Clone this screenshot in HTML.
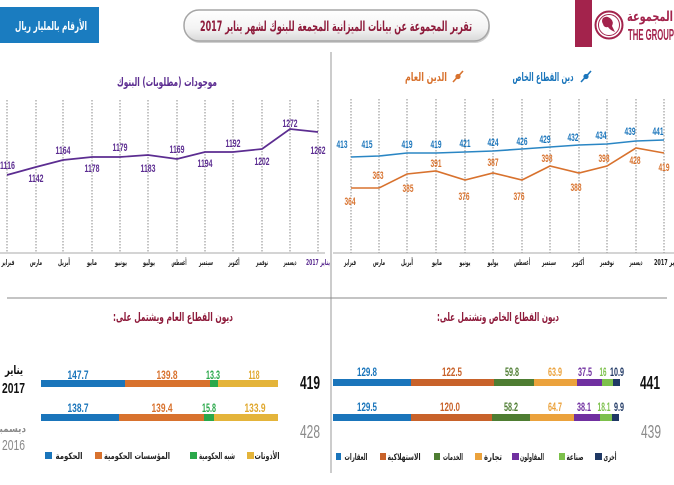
<!DOCTYPE html>
<html><head><meta charset="utf-8"><style>
html,body{margin:0;padding:0;background:#fff;width:674px;height:485px;overflow:hidden}
svg{display:block}
.ar{font-family:"DejaVu Sans Condensed","DejaVu Sans","Noto Sans CJK SC",sans-serif;font-weight:bold}
.num{font-family:"Liberation Sans Narrow","Liberation Sans",sans-serif;font-weight:bold}
.nl{font-family:"Liberation Sans Narrow","Liberation Sans",sans-serif}
</style></head><body>
<svg width="674" height="485" viewBox="0 0 674 485" xmlns="http://www.w3.org/2000/svg">
<defs>
<linearGradient id="pg" x1="0" y1="0" x2="0" y2="1"><stop offset="0" stop-color="#ffffff"/><stop offset="0.6" stop-color="#f3f3f3"/><stop offset="1" stop-color="#d9d9d9"/></linearGradient>
</defs>
<rect width="674" height="485" fill="#fff"/>

<!-- header -->
<rect x="0" y="7" width="99" height="36" fill="#1a7cc0"/>
<text x="51" y="30" class="ar" font-size="12" fill="#fff" text-anchor="middle" direction="rtl" textLength="72" lengthAdjust="spacingAndGlyphs">الأرقام بالمليار ريال</text>

<rect x="185" y="12" width="305" height="31" rx="15" fill="#cfcfcf"/>
<rect x="184" y="10" width="305" height="31" rx="15" fill="url(#pg)" stroke="#a5a5a5" stroke-width="1.5"/>
<text x="336" y="31" class="ar" font-size="14" fill="#8e1b3b" text-anchor="middle" direction="rtl" textLength="272" lengthAdjust="spacingAndGlyphs">تقرير المجموعة عن بيانات الميزانية المجمعة للبنوك لشهر يناير 2017</text>

<rect x="575" y="0" width="17" height="47" fill="#a3234c"/>
<circle cx="609" cy="25" r="13.5" fill="#fff" stroke="#a3234c" stroke-width="2"/>
<circle cx="609" cy="25" r="10.5" fill="none" stroke="#a3234c" stroke-width="1"/>
<path d="M603 18 q4 -3 8 1 q3 3 1 7 l3 6 q-5 -2 -7 -5 q-4 1 -5 -3 q-2 -3 0 -6z" fill="#a3234c"/>
<text x="650" y="21" class="ar" font-size="14" fill="#a3234c" text-anchor="middle" direction="rtl" textLength="46" lengthAdjust="spacingAndGlyphs">المجموعة</text>
<text x="651" y="40" class="num" font-size="16" fill="#a3234c" text-anchor="middle" textLength="46" lengthAdjust="spacingAndGlyphs">THE GROUP</text>

<!-- dividers -->
<line x1="331" y1="52" x2="331" y2="473" stroke="#9a9a9a" stroke-width="1"/>
<line x1="7" y1="298" x2="667" y2="298" stroke="#8a8a8a" stroke-width="1"/>

<!-- LEFT CHART -->
<text x="167" y="86" class="ar" font-size="12" fill="#5c2d91" text-anchor="middle" direction="rtl" textLength="100" lengthAdjust="spacingAndGlyphs">موجودات (مطلوبات) البنوك</text>
<g stroke="#8a8a8a" stroke-width="1" stroke-dasharray="1.5 1.5">
<line x1="7" y1="100" x2="7" y2="253"/><line x1="36" y1="100" x2="36" y2="253"/><line x1="63" y1="100" x2="63" y2="253"/><line x1="92" y1="100" x2="92" y2="253"/><line x1="120" y1="100" x2="120" y2="253"/><line x1="148" y1="100" x2="148" y2="253"/><line x1="177" y1="100" x2="177" y2="253"/><line x1="205" y1="100" x2="205" y2="253"/><line x1="233" y1="100" x2="233" y2="253"/><line x1="262" y1="100" x2="262" y2="253"/><line x1="290" y1="100" x2="290" y2="253"/><line x1="318" y1="100" x2="318" y2="253"/>
</g>
<line x1="0" y1="253" x2="325" y2="253" stroke="#aaa" stroke-width="1"/>
<polyline points="7,175 36,167 63,160 92,157 120,157 148,155 177,159 205,152 233,152 262,149 290,129 318,132" fill="none" stroke="#5c2d91" stroke-width="1.7"/>
<g class="num" font-size="11" fill="#5c2d91" text-anchor="middle">
<text x="0" y="169" text-anchor="start" textLength="15" lengthAdjust="spacingAndGlyphs">1116</text>
<text x="36" y="182" textLength="15" lengthAdjust="spacingAndGlyphs">1142</text>
<text x="63" y="154" textLength="15" lengthAdjust="spacingAndGlyphs">1164</text>
<text x="92" y="172" textLength="15" lengthAdjust="spacingAndGlyphs">1178</text>
<text x="120" y="151" textLength="15" lengthAdjust="spacingAndGlyphs">1179</text>
<text x="148" y="172" textLength="15" lengthAdjust="spacingAndGlyphs">1183</text>
<text x="177" y="153" textLength="15" lengthAdjust="spacingAndGlyphs">1169</text>
<text x="205" y="167" textLength="15" lengthAdjust="spacingAndGlyphs">1194</text>
<text x="233" y="147" textLength="15" lengthAdjust="spacingAndGlyphs">1192</text>
<text x="262" y="165" textLength="15" lengthAdjust="spacingAndGlyphs">1202</text>
<text x="290" y="127" textLength="15" lengthAdjust="spacingAndGlyphs">1272</text>
<text x="318" y="154" textLength="15" lengthAdjust="spacingAndGlyphs">1262</text>
</g>
<g class="ar" font-size="8" fill="#222" text-anchor="middle" direction="rtl">
<text x="8" y="265" textLength="13" lengthAdjust="spacingAndGlyphs">فبراير</text>
<text x="36" y="265" textLength="12" lengthAdjust="spacingAndGlyphs">مارس</text>
<text x="64" y="265" textLength="12" lengthAdjust="spacingAndGlyphs">أبريل</text>
<text x="92" y="265" textLength="10" lengthAdjust="spacingAndGlyphs">مايو</text>
<text x="121" y="265" textLength="12" lengthAdjust="spacingAndGlyphs">يونيو</text>
<text x="149" y="265" textLength="12" lengthAdjust="spacingAndGlyphs">يوليو</text>
<text x="179" y="265" textLength="15" lengthAdjust="spacingAndGlyphs">أغسطس</text>
<text x="206" y="265" textLength="14" lengthAdjust="spacingAndGlyphs">سبتمبر</text>
<text x="234" y="265" textLength="11" lengthAdjust="spacingAndGlyphs">أكتوبر</text>
<text x="262" y="265" textLength="12" lengthAdjust="spacingAndGlyphs">نوفمبر</text>
<text x="290" y="265" textLength="13" lengthAdjust="spacingAndGlyphs">ديسمبر</text>
<text x="318" y="265" textLength="24" lengthAdjust="spacingAndGlyphs" fill="#5c2d91">يناير 2017</text>
</g>

<!-- RIGHT CHART -->
<g>
<line x1="581" y1="82" x2="591" y2="71" stroke="#1a75bb" stroke-width="1.6"/><circle cx="586" cy="76.5" r="2.6" fill="#1a75bb"/>
<text x="543" y="81" class="ar" font-size="12" fill="#1a75bb" text-anchor="middle" direction="rtl" textLength="61" lengthAdjust="spacingAndGlyphs">دين القطاع الخاص</text>
<line x1="453" y1="82" x2="463" y2="71" stroke="#d8722e" stroke-width="1.6"/><circle cx="458" cy="76.5" r="2.6" fill="#d8722e"/>
<text x="426" y="81" class="ar" font-size="12" fill="#d8722e" text-anchor="middle" direction="rtl" textLength="42" lengthAdjust="spacingAndGlyphs">الدين العام</text>
</g>
<g stroke="#8a8a8a" stroke-width="1" stroke-dasharray="1.5 1.5">
<line x1="351" y1="99" x2="351" y2="253"/><line x1="379" y1="99" x2="379" y2="253"/><line x1="407" y1="99" x2="407" y2="253"/><line x1="436" y1="99" x2="436" y2="253"/><line x1="465" y1="99" x2="465" y2="253"/><line x1="493" y1="99" x2="493" y2="253"/><line x1="522" y1="99" x2="522" y2="253"/><line x1="550" y1="99" x2="550" y2="253"/><line x1="579" y1="99" x2="579" y2="253"/><line x1="607" y1="99" x2="607" y2="253"/><line x1="636" y1="99" x2="636" y2="253"/><line x1="664" y1="99" x2="664" y2="253"/>
</g>
<line x1="333" y1="253" x2="674" y2="253" stroke="#aaa" stroke-width="1"/>
<polyline points="351,157 379,156 407,153 436,153 465,152 493,151 522,149 550,147 579,145 607,144 636,141 664,140" fill="none" stroke="#2a86c4" stroke-width="1.6"/>
<polyline points="351,188 379,188 407,174 436,171 465,180 493,173 522,180 550,166 579,173 607,166 636,148 664,153" fill="none" stroke="#d8722e" stroke-width="1.6"/>
<g class="num" font-size="11" fill="#1a75bb" text-anchor="middle">
<text x="342" y="148" textLength="11" lengthAdjust="spacingAndGlyphs">413</text>
<text x="367" y="148" textLength="11" lengthAdjust="spacingAndGlyphs">415</text>
<text x="407" y="148" textLength="11" lengthAdjust="spacingAndGlyphs">419</text>
<text x="436" y="148" textLength="11" lengthAdjust="spacingAndGlyphs">419</text>
<text x="465" y="147" textLength="11" lengthAdjust="spacingAndGlyphs">421</text>
<text x="493" y="146" textLength="11" lengthAdjust="spacingAndGlyphs">424</text>
<text x="522" y="145" textLength="11" lengthAdjust="spacingAndGlyphs">426</text>
<text x="545" y="143" textLength="11" lengthAdjust="spacingAndGlyphs">429</text>
<text x="573" y="141" textLength="11" lengthAdjust="spacingAndGlyphs">432</text>
<text x="601" y="139" textLength="11" lengthAdjust="spacingAndGlyphs">434</text>
<text x="630" y="135" textLength="11" lengthAdjust="spacingAndGlyphs">439</text>
<text x="658" y="135" textLength="11" lengthAdjust="spacingAndGlyphs">441</text>
</g>
<g class="num" font-size="11" fill="#d8722e" text-anchor="middle">
<text x="350" y="205" textLength="11" lengthAdjust="spacingAndGlyphs">364</text>
<text x="378" y="179" textLength="11" lengthAdjust="spacingAndGlyphs">363</text>
<text x="408" y="192" textLength="11" lengthAdjust="spacingAndGlyphs">385</text>
<text x="436" y="167" textLength="11" lengthAdjust="spacingAndGlyphs">391</text>
<text x="464" y="200" textLength="11" lengthAdjust="spacingAndGlyphs">376</text>
<text x="493" y="166" textLength="11" lengthAdjust="spacingAndGlyphs">387</text>
<text x="519" y="200" textLength="11" lengthAdjust="spacingAndGlyphs">376</text>
<text x="547" y="162" textLength="11" lengthAdjust="spacingAndGlyphs">398</text>
<text x="576" y="191" textLength="11" lengthAdjust="spacingAndGlyphs">388</text>
<text x="604" y="162" textLength="11" lengthAdjust="spacingAndGlyphs">398</text>
<text x="635" y="164" textLength="11" lengthAdjust="spacingAndGlyphs">428</text>
<text x="664" y="171" textLength="11" lengthAdjust="spacingAndGlyphs">419</text>
</g>
<g class="ar" font-size="8" fill="#222" text-anchor="middle" direction="rtl">
<text x="350" y="265" textLength="12" lengthAdjust="spacingAndGlyphs">فبراير</text>
<text x="379" y="265" textLength="12" lengthAdjust="spacingAndGlyphs">مارس</text>
<text x="407" y="265" textLength="12" lengthAdjust="spacingAndGlyphs">أبريل</text>
<text x="437" y="265" textLength="10" lengthAdjust="spacingAndGlyphs">مايو</text>
<text x="465" y="265" textLength="11" lengthAdjust="spacingAndGlyphs">يونيو</text>
<text x="493" y="265" textLength="11" lengthAdjust="spacingAndGlyphs">يوليو</text>
<text x="522" y="265" textLength="16" lengthAdjust="spacingAndGlyphs">أغسطس</text>
<text x="549" y="265" textLength="14" lengthAdjust="spacingAndGlyphs">سبتمبر</text>
<text x="578" y="265" textLength="12" lengthAdjust="spacingAndGlyphs">أكتوبر</text>
<text x="607" y="265" textLength="14" lengthAdjust="spacingAndGlyphs">نوفمبر</text>
<text x="636" y="265" textLength="13" lengthAdjust="spacingAndGlyphs">ديسمبر</text>
<text x="667" y="265" textLength="26" lengthAdjust="spacingAndGlyphs">يناير 2017</text>
</g>

<!-- BOTTOM LEFT -->
<text x="173" y="321" class="ar" font-size="12" fill="#8e1b3b" text-anchor="middle" direction="rtl" textLength="120" lengthAdjust="spacingAndGlyphs">ديون القطاع العام ويشتمل على:</text>
<text x="14" y="374" class="ar" font-size="12" fill="#111" text-anchor="middle" direction="rtl" textLength="18" lengthAdjust="spacingAndGlyphs">يناير</text>
<text x="2" y="393" class="num" font-size="15" fill="#111" textLength="23" lengthAdjust="spacingAndGlyphs">2017</text>
<text x="10" y="432" class="ar" font-size="10" fill="#8a8a8a" text-anchor="middle" direction="rtl" textLength="32" lengthAdjust="spacingAndGlyphs">ديسمبر</text>
<text x="2" y="450" class="nl" font-size="15" fill="#8a8a8a" textLength="23" lengthAdjust="spacingAndGlyphs">2016</text>

<rect x="41" y="380" width="84" height="7" fill="#1a75bb"/>
<rect x="125" y="380" width="85" height="7" fill="#d8722e"/>
<rect x="210" y="380" width="8" height="7" fill="#2aa84a"/>
<rect x="218" y="380" width="60" height="7" fill="#e4b43a"/>
<rect x="41" y="414" width="78" height="7" fill="#1a75bb"/>
<rect x="119" y="414" width="85" height="7" fill="#d8722e"/>
<rect x="204" y="414" width="10" height="7" fill="#2aa84a"/>
<rect x="214" y="414" width="64" height="7" fill="#e4b43a"/>
<g class="num" font-size="11.5" text-anchor="middle">
<text x="78" y="379" fill="#1a75bb" textLength="21" lengthAdjust="spacingAndGlyphs">147.7</text>
<text x="167" y="379" fill="#d8722e" textLength="21" lengthAdjust="spacingAndGlyphs">139.8</text>
<text x="213" y="379" fill="#2aa84a" textLength="14" lengthAdjust="spacingAndGlyphs">13.3</text>
<text x="254" y="379" fill="#e0a82e" textLength="11" lengthAdjust="spacingAndGlyphs">118</text>
<text x="78" y="412" fill="#1a75bb" textLength="21" lengthAdjust="spacingAndGlyphs">138.7</text>
<text x="162" y="412" fill="#d8722e" textLength="21" lengthAdjust="spacingAndGlyphs">139.4</text>
<text x="209" y="412" fill="#2aa84a" textLength="14" lengthAdjust="spacingAndGlyphs">15.8</text>
<text x="255" y="412" fill="#e0a82e" textLength="21" lengthAdjust="spacingAndGlyphs">133.9</text>
</g>
<text x="300" y="389" class="num" font-size="18" fill="#111" textLength="20" lengthAdjust="spacingAndGlyphs">419</text>
<text x="300" y="438" class="nl" font-size="18" fill="#8a8a8a" textLength="20" lengthAdjust="spacingAndGlyphs">428</text>
<rect x="45" y="452" width="7" height="7" fill="#1a75bb"/>
<text x="69" y="459" class="ar" font-size="9" fill="#222" text-anchor="middle" direction="rtl" textLength="27" lengthAdjust="spacingAndGlyphs">الحكومة</text>
<rect x="95" y="452" width="7" height="7" fill="#d8722e"/>
<text x="137" y="459" class="ar" font-size="9" fill="#222" text-anchor="middle" direction="rtl" textLength="66" lengthAdjust="spacingAndGlyphs">المؤسسات الحكومية</text>
<rect x="190" y="452" width="7" height="7" fill="#2aa84a"/>
<text x="217" y="459" class="ar" font-size="9" fill="#222" text-anchor="middle" direction="rtl" textLength="36" lengthAdjust="spacingAndGlyphs">شبه الحكومية</text>
<rect x="247" y="452" width="7" height="7" fill="#e4b43a"/>
<text x="267" y="459" class="ar" font-size="9" fill="#222" text-anchor="middle" direction="rtl" textLength="25" lengthAdjust="spacingAndGlyphs">الأذونات</text>

<!-- BOTTOM RIGHT -->
<text x="498" y="321" class="ar" font-size="12" fill="#8e1b3b" text-anchor="middle" direction="rtl" textLength="122" lengthAdjust="spacingAndGlyphs">ديون القطاع الخاص وتشتمل على:</text>
<rect x="333" y="379" width="78" height="7" fill="#1a75bb"/>
<rect x="411" y="379" width="83" height="7" fill="#c8622a"/>
<rect x="494" y="379" width="40" height="7" fill="#4e7d32"/>
<rect x="534" y="379" width="43" height="7" fill="#eba23c"/>
<rect x="577" y="379" width="25" height="7" fill="#7030a0"/>
<rect x="602" y="379" width="11" height="7" fill="#7cc04b"/>
<rect x="613" y="379" width="7" height="7" fill="#1f3864"/>
<rect x="333" y="414" width="78" height="7" fill="#1a75bb"/>
<rect x="411" y="414" width="81" height="7" fill="#c8622a"/>
<rect x="492" y="414" width="38" height="7" fill="#4e7d32"/>
<rect x="530" y="414" width="44" height="7" fill="#eba23c"/>
<rect x="574" y="414" width="26" height="7" fill="#7030a0"/>
<rect x="600" y="414" width="12" height="7" fill="#7cc04b"/>
<rect x="612" y="414" width="7" height="7" fill="#1f3864"/>
<g class="num" font-size="11.5" text-anchor="middle">
<text x="367" y="376" fill="#1a75bb" textLength="20" lengthAdjust="spacingAndGlyphs">129.8</text>
<text x="452" y="376" fill="#c8622a" textLength="20" lengthAdjust="spacingAndGlyphs">122.5</text>
<text x="512" y="376" fill="#4e7d32" textLength="14" lengthAdjust="spacingAndGlyphs">59.8</text>
<text x="555" y="376" fill="#eba23c" textLength="14" lengthAdjust="spacingAndGlyphs">63.9</text>
<text x="585" y="376" fill="#7030a0" textLength="14" lengthAdjust="spacingAndGlyphs">37.5</text>
<text x="603" y="376" fill="#7cc04b" textLength="7" lengthAdjust="spacingAndGlyphs">16</text>
<text x="617" y="376" fill="#1f3864" textLength="14" lengthAdjust="spacingAndGlyphs">10.9</text>
<text x="367" y="411" fill="#1a75bb" textLength="20" lengthAdjust="spacingAndGlyphs">129.5</text>
<text x="450" y="411" fill="#c8622a" textLength="20" lengthAdjust="spacingAndGlyphs">120.0</text>
<text x="511" y="411" fill="#4e7d32" textLength="14" lengthAdjust="spacingAndGlyphs">58.2</text>
<text x="555" y="411" fill="#eba23c" textLength="14" lengthAdjust="spacingAndGlyphs">64.7</text>
<text x="584" y="411" fill="#7030a0" textLength="14" lengthAdjust="spacingAndGlyphs">38.1</text>
<text x="604" y="411" fill="#7cc04b" textLength="13" lengthAdjust="spacingAndGlyphs">18.1</text>
<text x="619" y="411" fill="#1f3864" textLength="10" lengthAdjust="spacingAndGlyphs">9.9</text>
</g>
<text x="640" y="389" class="num" font-size="18" fill="#111" textLength="20" lengthAdjust="spacingAndGlyphs">441</text>
<text x="641" y="438" class="nl" font-size="18" fill="#8a8a8a" textLength="20" lengthAdjust="spacingAndGlyphs">439</text>
<rect x="336" y="453" width="5" height="7" fill="#1a75bb"/>
<text x="356" y="460" class="ar" font-size="9" fill="#222" text-anchor="middle" direction="rtl" textLength="23" lengthAdjust="spacingAndGlyphs">العقارات</text>
<rect x="380" y="453" width="6" height="7" fill="#c8622a"/>
<text x="404" y="460" class="ar" font-size="9" fill="#222" text-anchor="middle" direction="rtl" textLength="33" lengthAdjust="spacingAndGlyphs">الاستهلاكية</text>
<rect x="434" y="453" width="6" height="7" fill="#4e7d32"/>
<text x="453" y="460" class="ar" font-size="9" fill="#222" text-anchor="middle" direction="rtl" textLength="20" lengthAdjust="spacingAndGlyphs">الخدمات</text>
<rect x="475" y="453" width="7" height="7" fill="#eba23c"/>
<text x="493" y="460" class="ar" font-size="9" fill="#222" text-anchor="middle" direction="rtl" textLength="18" lengthAdjust="spacingAndGlyphs">تجارة</text>
<rect x="512" y="453" width="7" height="7" fill="#7030a0"/>
<text x="532" y="460" class="ar" font-size="9" fill="#222" text-anchor="middle" direction="rtl" textLength="24" lengthAdjust="spacingAndGlyphs">المقاولون</text>
<rect x="559" y="453" width="6" height="7" fill="#7cc04b"/>
<text x="575" y="460" class="ar" font-size="9" fill="#222" text-anchor="middle" direction="rtl" textLength="17" lengthAdjust="spacingAndGlyphs">صناعة</text>
<rect x="595" y="453" width="7" height="7" fill="#1f3864"/>
<text x="610" y="460" class="ar" font-size="9" fill="#222" text-anchor="middle" direction="rtl" textLength="13" lengthAdjust="spacingAndGlyphs">أخرى</text>
</svg>
</body></html>
